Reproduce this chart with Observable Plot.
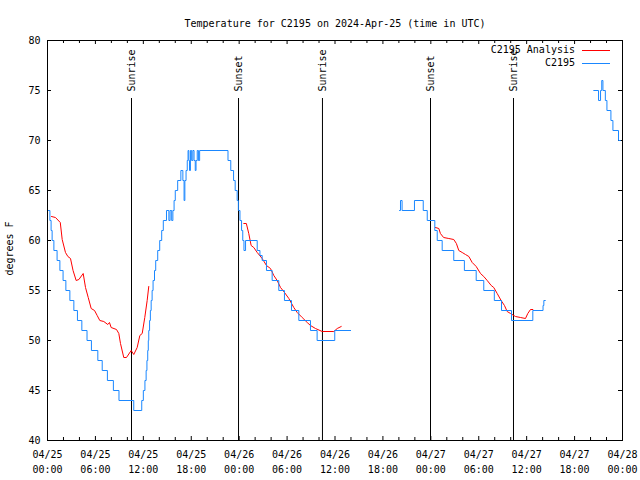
<!DOCTYPE html>
<html><head><meta charset="utf-8">
<script src="https://cdn.jsdelivr.net/npm/d3@7"></script>
<script src="https://cdn.jsdelivr.net/npm/@observablehq/plot@0.6"></script>
<style>
body{margin:0;background:#fff;}
#wrap{position:relative;width:640px;height:480px;font-family:"DejaVu Sans Mono",monospace;font-size:10px;color:#000;}
#wrap svg{display:block;}
.leg{position:absolute;left:0;width:575px;text-align:right;line-height:12px;white-space:pre;}
.legline{position:absolute;left:582px;width:28px;height:0;border-top:1px solid;}
</style></head><body><div id="wrap"></div>
<script>
const title = "Temperature for C2195 on 2024-Apr-25 (time in UTC)";
const yLabel = "degrees F";
const xTickHours = [0, 6, 12, 18, 24, 30, 36, 42, 48, 54, 60, 66, 72];
const xTickDates = ["04/25","04/25","04/25","04/25","04/26","04/26","04/26","04/26","04/27","04/27","04/27","04/27","04/28"];
const xTickTimes = ["00:00","06:00","12:00","18:00","00:00","06:00","12:00","18:00","00:00","06:00","12:00","18:00","00:00"];
const xMinorHours = [2,4,8,10,14,16,20,22,26,28,32,34,38,40,44,46,50,52,56,58,62,64,68,70];
const yTicks = [40, 45, 50, 55, 60, 65, 70, 75, 80];
const sunHours = [10.52, 23.92, 34.43, 47.96, 58.35];
const sunLabels = ["Sunrise", "Sunset", "Sunrise", "Sunset", "Sunrise"];
const legendLabels = ["C2195 Analysis", "C2195"];
const legendColors = ["#ff0000", "#1a87ff"];

// C2195 observations (hour since 04/25 00:00 UTC, degrees F), step changes
const c2195Seg1 = [[0.1,63],[0.3,62],[0.45,61],[0.58,60],[0.8,59],[1.2,58],[1.55,57],[1.95,56],[2.3,55],[2.8,54],[3.3,53],[3.75,52],[4.3,51],[4.95,50],[5.5,49],[6.3,48],[6.85,47],[7.5,46],[8.25,45],[8.95,44],[10.8,43],[11.8,44],[12.0,45],[12.2,46],[12.35,47],[12.45,48],[12.55,49],[12.62,50],[12.68,51],[12.78,52],[12.88,53],[12.98,54],[13.1,55],[13.22,56],[13.4,57],[13.55,58],[13.8,59],[14.05,60],[14.3,61],[14.5,62],[14.9,63],[15.2,62],[15.35,63],[15.55,62],[15.7,63],[15.85,64],[16.0,65],[16.3,66],[16.7,67],[16.95,66],[17.1,64],[17.2,66],[17.35,67],[17.5,68],[17.6,69],[17.7,68],[17.78,67],[17.9,69],[18.05,68],[18.2,69],[18.35,68],[18.5,67],[18.6,68],[18.75,69],[18.9,68],[19.05,69],[22.6,68],[22.95,67],[23.3,66],[23.5,65],[23.75,64],[23.9,63],[24.1,62],[24.3,61],[24.45,60],[24.6,59],[24.8,60],[26.26,59],[26.6,58.5],[26.88,58],[27.42,57],[28.13,56],[28.96,55],[29.67,54],[30.55,53],[31.47,52],[32.93,51],[33.76,50],[35.97,51],[38.0,51]];
const c2195Seg2 = [[44.08,63],[44.2,64],[44.4,63],[45.95,64],[47.05,63],[47.55,62],[48.5,61],[48.8,60],[49.42,59],[50.87,58],[52.2,57],[53.68,56],[54.63,55],[55.95,54],[56.85,53],[58.1,52],[60.77,53],[62.05,53.5],[62.15,54],[62.36,54]];
const c2195Seg3 = [[68.4,75],[69.0,74],[69.25,75],[69.4,76],[69.55,75],[69.85,74],[70.05,73],[70.55,72],[70.8,71],[71.5,70],[71.75,70]];

// C2195 Analysis (hour, degrees F)
const analysisSeg1 = [[0.5,62.4],[1.0,62.3],[1.6,61.8],[1.84,60.1],[2.25,58.8],[2.55,58.4],[2.88,58.2],[3.2,57],[3.59,56],[3.93,56.1],[4.47,56.7],[4.76,55.3],[5.1,54.3],[5.47,53.2],[5.89,53],[6.22,52.5],[6.55,52],[7.05,51.9],[7.55,51.6],[7.76,51.8],[7.97,51.3],[8.64,51.1],[8.93,50.7],[9.14,49.7],[9.55,48.3],[9.89,48.3],[10.48,49],[10.8,48.6],[11.23,49.3],[11.56,50.5],[11.86,50.7],[12.18,52.3],[12.48,54],[12.68,55.4]];
const analysisSeg2 = [[24.58,61.7],[24.9,61.7],[25.2,60.7],[25.5,59.5],[25.83,59.3],[26.26,58.8],[26.88,58.2],[27.42,57.5],[27.92,57.2],[28.34,56.5],[28.76,56],[29.18,55.3],[29.68,54.8],[30.22,54.2],[30.84,53.3],[31.27,52.8],[31.89,52.3],[32.52,51.8],[32.93,51.5],[33.56,51.2],[34.4,50.9],[35.85,50.9],[36.28,51.2],[36.78,51.4]];
const analysisSeg3 = [[48.58,61.3],[49.0,61.2],[49.2,60.7],[49.6,60.3],[50.25,60.2],[50.87,60.1],[51.2,59.7],[51.5,59],[51.93,58.8],[52.34,58.6],[52.76,58.4],[53.18,57.8],[53.68,57.4],[54.22,56.7],[54.63,56.4],[55.06,56],[55.56,55.5],[55.88,55.3],[56.31,54.7],[56.8,54],[57.22,53.5],[57.56,52.9],[57.98,52.7],[58.6,52.4],[59.23,52.3],[59.85,52.2],[60.14,52.7],[60.48,53.1],[60.77,53.1]];

const toRows = segs => segs.flatMap((s, k) => (k ? [{h: NaN, t: NaN}] : []).concat(s.map(([h, t]) => ({h, t}))));
const obs = toRows([c2195Seg1, c2195Seg2, c2195Seg3]);
const ana = toRows([analysisSeg1, analysisSeg2, analysisSeg3]);
const sun = sunHours.map((h, i) => ({h, label: sunLabels[i]}));
const xLab = new Map(xTickHours.map((h, i) => [h, xTickDates[i] + "\n" + xTickTimes[i]]));

const chart = Plot.plot({
  width: 640, height: 480,
  marginLeft: 47, marginRight: 18, marginTop: 40, marginBottom: 40,
  style: {fontFamily: "'DejaVu Sans Mono', monospace", fontSize: "10px", background: "#fff", color: "#000"},
  x: {domain: [0, 72]},
  y: {domain: [40, 80]},
  marks: [
    Plot.ruleX(sun, {x: "h", insetTop: 58, stroke: "#000", strokeWidth: 1}),
    Plot.text(sun, {x: "h", text: "label", frameAnchor: "top", dy: 51, dx: -4, rotate: -90, textAnchor: "start", fill: "#000"}),
    Plot.tickX(xTickHours, {x: d => d, insetTop: 396, stroke: "#000"}),
    Plot.tickX(xTickHours, {x: d => d, insetBottom: 396, stroke: "#000"}),
    Plot.tickX(xMinorHours, {x: d => d, insetTop: 397, stroke: "#000"}),
    Plot.tickX(xMinorHours, {x: d => d, insetBottom: 397, stroke: "#000"}),
    Plot.tickY(yTicks, {y: d => d, insetRight: 571, stroke: "#000"}),
    Plot.tickY(yTicks, {y: d => d, insetLeft: 571, stroke: "#000"}),
    Plot.line(ana, {x: "h", y: "t", stroke: legendColors[0], strokeWidth: 1}),
    Plot.line(obs, {x: "h", y: "t", stroke: legendColors[1], strokeWidth: 1, curve: "step-after"}),
    Plot.frame({stroke: "#000"}),
    Plot.axisX(xTickHours, {tickSize: 0, tickPadding: 7, tickFormat: d => xLab.get(d), lineHeight: 1.5, label: null}),
    Plot.axisY(yTicks, {tickSize: 0, tickPadding: 7, label: null}),
    Plot.text([yLabel], {frameAnchor: "left", dx: -38, dy: 8, rotate: -90, textAnchor: "middle", fill: "#000"}),
    Plot.text([title], {frameAnchor: "top", dy: -21, fill: "#000"})
  ]
});
const wrap = document.getElementById("wrap");
wrap.appendChild(chart);
legendLabels.forEach((lab, i) => {
  const t = document.createElement("div");
  t.className = "leg"; t.textContent = lab; t.style.top = (44 + i * 13) + "px";
  wrap.appendChild(t);
  const l = document.createElement("div");
  l.className = "legline"; l.style.top = (50 + i * 13) + "px"; l.style.borderColor = legendColors[i];
  wrap.appendChild(l);
});
</script></body></html>
